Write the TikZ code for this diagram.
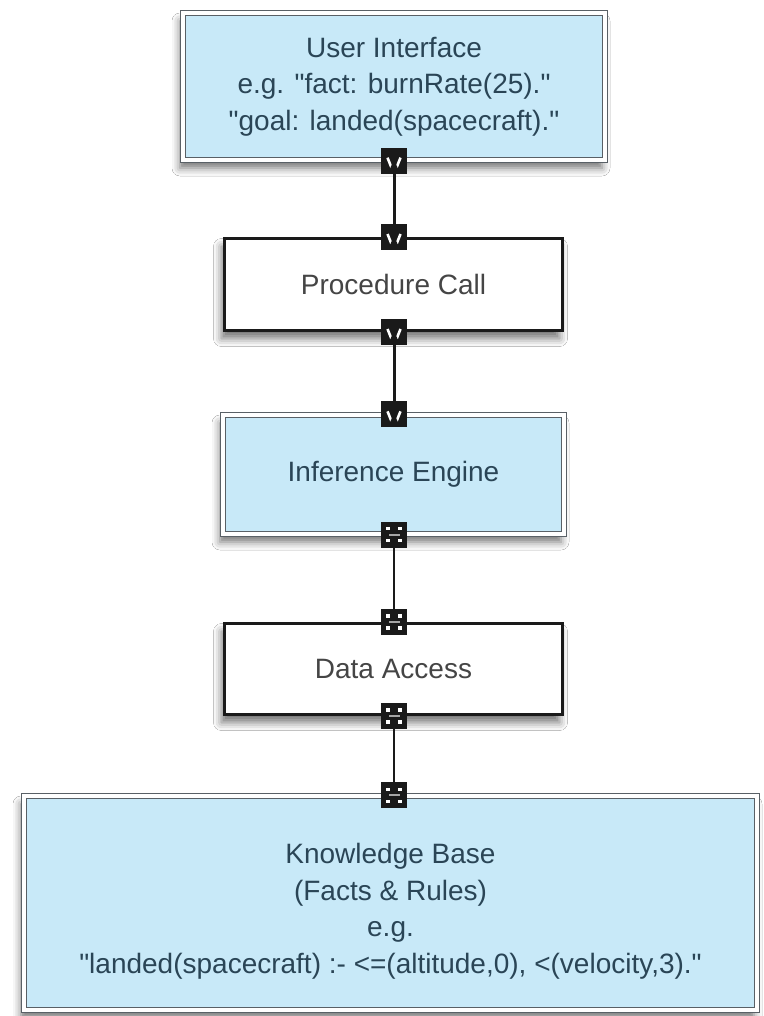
\documentclass[tikz,border=0pt]{standalone}
\usepackage{fontspec}
\setmainfont{Liberation Sans}[Ligatures=TeXOff]
\usetikzlibrary{shadows.blur}

\definecolor{boxblue}{HTML}{C8E9F8}
\definecolor{bluetext}{HTML}{2A4556}
\definecolor{greytext}{HTML}{454545}
\definecolor{framegrey}{HTML}{596066}
\definecolor{plugblack}{HTML}{1A1A1A}

\begin{document}
\begin{tikzpicture}[x=1pt,y=-1pt,
  every node/.style={inner sep=0pt, align=center, font=\fontsize{28}{36.5}\selectfont},
  softshadow/.style={blur shadow={shadow xshift=-3pt, shadow yshift=-8pt,
      shadow blur radius=8pt, shadow opacity=55}},
  blueblock/.style={draw=framegrey, line width=1.3pt, double=white,
      double distance=3.4pt, fill=boxblue, text=bluetext, softshadow},
  whiteblock/.style={draw=plugblack, line width=3pt, fill=white,
      text=greytext, softshadow},
  plug/.style={fill=plugblack, minimum width=26pt, minimum height=26pt},
  vplug/.style={plug, path picture={
      \draw[white, line width=2.6pt]
        ([shift={(-6.5pt,3pt)}]path picture bounding box.center) --
        ([shift={(-2.5pt,-7pt)}]path picture bounding box.center);
      \draw[white, line width=2.6pt]
        ([shift={(6.5pt,3pt)}]path picture bounding box.center) --
        ([shift={(2.5pt,-7pt)}]path picture bounding box.center);
      \fill[plugblack]
        ([shift={(-4pt,-8pt)}]path picture bounding box.center) --
        ([shift={(4pt,-8pt)}]path picture bounding box.center) --
        ([shift={(0pt,1pt)}]path picture bounding box.center) -- cycle;}},
  gridplug/.style={plug, path picture={
      \foreach \dx in {-6pt,6pt}{
        \foreach \dy in {-6pt,6pt}{
          \fill[white] ([shift={(\dx-1.8pt,\dy-1.8pt)}]path picture bounding box.center)
            rectangle ([shift={(\dx+1.8pt,\dy+1.8pt)}]path picture bounding box.center);}}
      \fill[gray!70] ([shift={(-5.5pt,-1pt)}]path picture bounding box.center)
        rectangle ([shift={(5.5pt,1pt)}]path picture bounding box.center);}},
  thickwire/.style={draw=plugblack, line width=3pt},
  thinwire/.style={draw=plugblack, line width=2pt}
]
\useasboundingbox[fill=white] (0,0) rectangle (763,1016);

% layers of the system, top to bottom
\node[blueblock, minimum width=422pt, minimum height=147pt] (ui) at (394,86.5)
  {User Interface\\e.g. "fact: burnRate(25)."\\"goal: landed(spacecraft)."};
\node[whiteblock, minimum width=338pt, minimum height=92pt] (pc) at (393.5,284.5)
  {Procedure Call};
\node[blueblock, minimum width=341pt, minimum height=119pt] (ie) at (393.5,474.5)
  {Inference Engine};
\node[whiteblock, minimum width=338pt, minimum height=91pt] (da) at (393.5,669)
  {Data Access};
\node[blueblock, minimum width=733pt, minimum height=214pt] (kb) at (390.5,903)
  {};
\node[text=bluetext] (kbtext) at (390.5,911)
  {Knowledge Base\\(Facts \& Rules)\\e.g.\\"landed(spacecraft) :- <=(altitude,0), <(velocity,3)."};

% connection points on the box edges
\coordinate (p1) at (ui.south);
\coordinate (p2) at (ui.south |- pc.north);
\coordinate (p3) at (ui.south |- pc.south);
\coordinate (p4) at (ui.south |- ie.north);
\coordinate (p5) at (ui.south |- ie.south);
\coordinate (p6) at (ui.south |- da.north);
\coordinate (p7) at (ui.south |- da.south);
\coordinate (p8) at (ui.south |- kb.north);

% wires between the layers
\draw[thickwire] (p1) -- (p2);
\draw[thickwire] (p3) -- (p4);
\draw[thinwire] (p5) -- (p6);
\draw[thinwire] (p7) -- (p8);

% plugs where the wires meet the boxes
\node[vplug] (m1) at (p1) {};
\node[vplug] (m2) at (p2) {};
\node[vplug] (m3) at (p3) {};
\node[vplug] (m4) at (p4) {};
\node[gridplug] (m5) at (p5) {};
\node[gridplug] (m6) at (p6) {};
\node[gridplug] (m7) at (p7) {};
\node[gridplug] (m8) at (p8) {};
\end{tikzpicture}
\end{document}
